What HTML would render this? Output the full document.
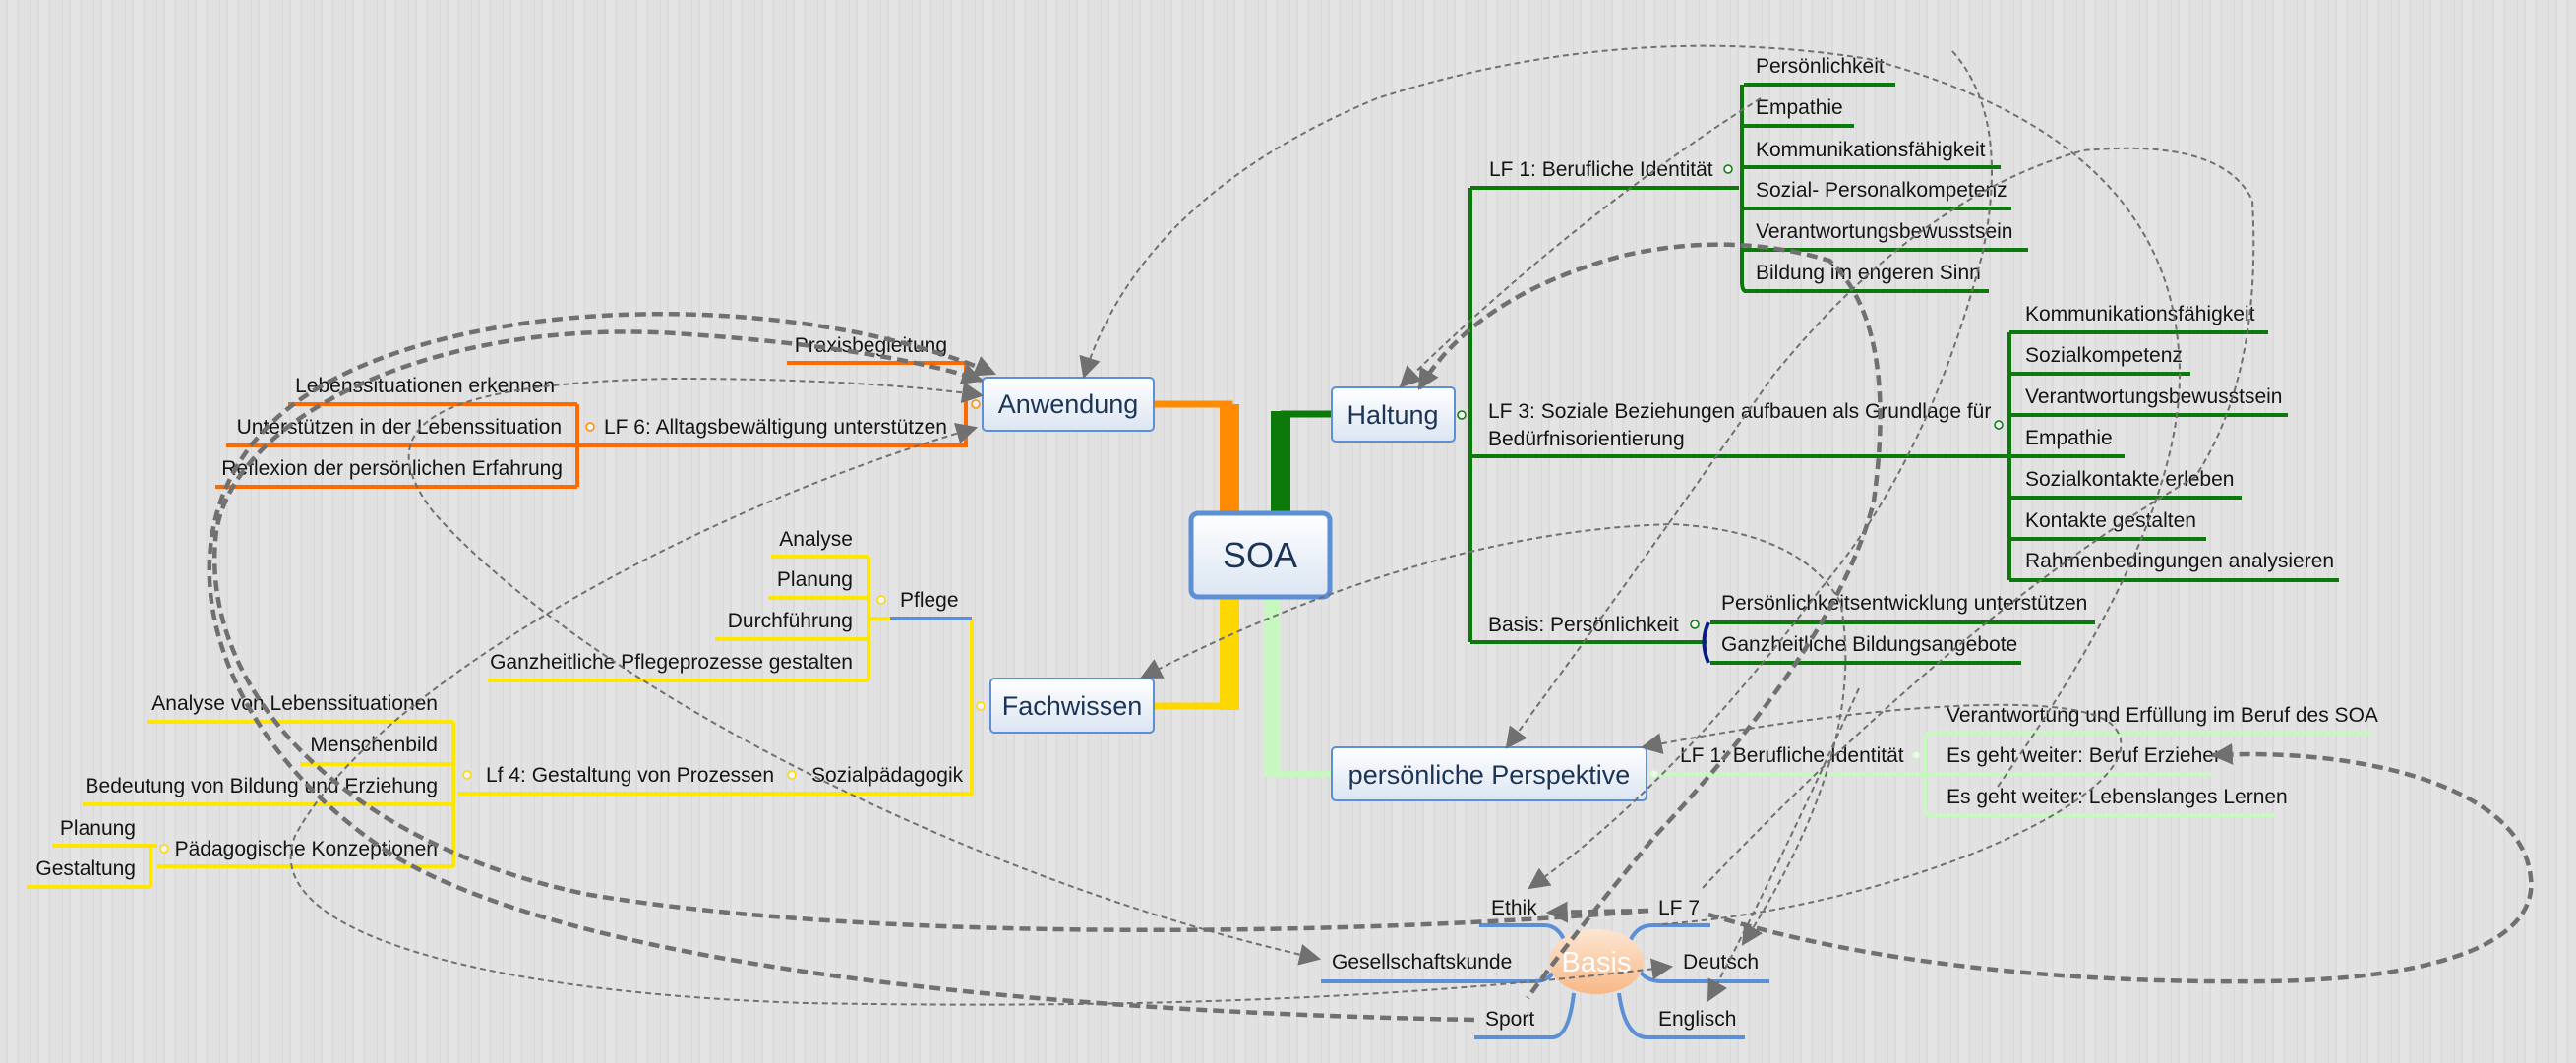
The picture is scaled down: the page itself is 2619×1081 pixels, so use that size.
<!DOCTYPE html>
<html><head><meta charset="utf-8"><style>
html,body{margin:0;padding:0}
body{width:2619px;height:1081px;overflow:hidden;background:#e0e0e0;background-image:repeating-linear-gradient(90deg,#e2e2e2 0 6px,#dadada 6px 8px,#e4e4e4 8px 17px,#dcdcdc 17px 19px,#e1e1e1 19px 31px,#d9d9d9 31px 32px)}
svg{position:absolute;left:0;top:0}
text{font-family:"Liberation Sans",sans-serif;font-size:21px;fill:#141414}
.e{text-anchor:end}
.bx{font-size:27px;fill:#1c3557;text-anchor:middle}
.d{fill:none;stroke:#707070;stroke-width:2;stroke-dasharray:6 4}
.t{fill:none;stroke:#707070;stroke-width:4.5;stroke-dasharray:11 6}
.g{stroke:#0b7a0b;stroke-width:4;fill:none}
.o{stroke:#ff6a00;stroke-width:4;fill:none}
.y{stroke:#ffe600;stroke-width:4;fill:none}
.l{stroke:#c8f7c2;stroke-width:4;fill:none}
.b{stroke:#5b8fd6;stroke-width:4;fill:none}
.c{fill:#f4f4f4;stroke-width:1.5}
</style></head><body>
<svg width="2619" height="1081" viewBox="0 0 2619 1081">
<defs>
<linearGradient id="bg" x1="0" y1="0" x2="0" y2="1"><stop offset="0" stop-color="#ffffff"/><stop offset="1" stop-color="#dbe5f2"/></linearGradient>
<linearGradient id="pe" x1="0" y1="0" x2="0" y2="1"><stop offset="0" stop-color="#fde6d2"/><stop offset="1" stop-color="#f8b887"/></linearGradient>
<marker id="A" viewBox="0 0 10 10" refX="9" refY="5" markerWidth="22" markerHeight="22" orient="auto-start-reverse" markerUnits="userSpaceOnUse"><path d="M0,0 L10,5 L0,10 z" fill="#707070"/></marker>
</defs>

<path d="M1173 411 H1250 V520" fill="none" stroke="#ff8c00" stroke-width="7"/>
<rect x="1240" y="411" width="20" height="110" fill="#ff8c00"/>
<path d="M1302 421 H1354" stroke="#0b7a0b" stroke-width="7"/>
<rect x="1292" y="418" width="20" height="103" fill="#0b7a0b"/>
<path d="M1173 718 H1250" stroke="#ffd700" stroke-width="7"/>
<rect x="1240" y="607" width="20" height="115" fill="#ffd700"/>
<rect x="1285" y="607" width="17" height="183" fill="#c8f7c2"/>
<path d="M1294 787 H1354" stroke="#c8f7c2" stroke-width="7"/>

<path class="g" d="M1495 191 V653"/>
<path class="g" d="M1495 191 H1768"/>
<path class="g" d="M1771 86 V286 Q1771 296 1775 296"/>
<path class="g" d="M1773 86 H1927 M1773 128 H1885 M1773 170 H2034 M1773 212 H2045 M1773 254 H2062 M1773 296 H2022"/>
<text x="1514" y="179">LF 1: Berufliche Identität</text>
<circle class="c" cx="1757" cy="172" r="4" stroke="#0b7a0b"/>
<text x="1785" y="74">Persönlichkeit</text>
<text x="1785" y="116">Empathie</text>
<text x="1785" y="159">Kommunikationsfähigkeit</text>
<text x="1785" y="200">Sozial- Personalkompetenz</text>
<text x="1785" y="242">Verantwortungsbewusstsein</text>
<text x="1785" y="284">Bildung im engeren Sinn</text>

<path class="g" d="M1495 464 H2043"/>
<path class="g" d="M2043 338 V590"/>
<path class="g" d="M2043 338 H2306 M2043 380 H2227 M2043 422 H2326 M2043 464 H2160 M2043 506 H2279 M2043 548 H2243 M2043 590 H2378"/>
<text x="1513" y="425">LF 3: Soziale Beziehungen aufbauen als Grundlage für</text>
<text x="1513" y="453">Bedürfnisorientierung</text>
<circle class="c" cx="2032" cy="432" r="4" stroke="#0b7a0b"/>
<text x="2059" y="326">Kommunikationsfähigkeit</text>
<text x="2059" y="368">Sozialkompetenz</text>
<text x="2059" y="410">Verantwortungsbewusstsein</text>
<text x="2059" y="452">Empathie</text>
<text x="2059" y="494">Sozialkontakte erleben</text>
<text x="2059" y="536">Kontakte gestalten</text>
<text x="2059" y="577">Rahmenbedingungen analysieren</text>

<path class="g" d="M1495 653 H1735"/>
<path d="M1737 633 Q1728 653 1737 674" stroke="#0a1a8a" stroke-width="4" fill="none"/>
<path class="g" d="M1739 633 H2130 M1739 674 H2055"/>
<text x="1513" y="642">Basis: Persönlichkeit</text>
<circle class="c" cx="1723" cy="635" r="4" stroke="#0b7a0b"/>
<text x="1750" y="620">Persönlichkeitsentwicklung unterstützen</text>
<text x="1750" y="662">Ganzheitliche Bildungsangebote</text>
<circle class="c" cx="1486" cy="422" r="4" stroke="#0b7a0b"/>

<path class="l" d="M1680 787 H1957"/>
<path class="l" d="M1962 745 Q1957 745 1957 755 V819 Q1957 829 1962 829"/>
<path class="l" d="M1960 745 H2412 M1957 787 H2250 M1960 829 H2314"/>
<text x="1708" y="775">LF 1: Berufliche Identität</text>
<circle class="c" cx="1948" cy="768" r="4" stroke="#c8f7c2"/>
<circle class="c" cx="1682" cy="787" r="4" stroke="#c8f7c2"/>
<text x="1979" y="734">Verantwortung und Erfüllung im Beruf des SOA</text>
<text x="1979" y="775">Es geht weiter: Beruf Erzieher</text>
<text x="1979" y="817">Es geht weiter: Lebenslanges Lernen</text>

<path class="o" d="M800 369 H982 V453 H587"/>
<path class="o" d="M587 411 V495"/>
<path class="o" d="M293 411 H587 M230 453 H587 M219 495 H587"/>
<text class="e" x="963" y="358">Praxisbegleitung</text>
<text class="e" x="963" y="441">LF 6: Alltagsbewältigung unterstützen</text>
<circle class="c" cx="600" cy="434" r="4" stroke="#ff8c00"/>
<circle class="c" cx="992" cy="411" r="4" stroke="#ff8c00"/>
<text class="e" x="564" y="399">Lebenssituationen erkennen</text>
<text class="e" x="571" y="441">Unterstützen in der Lebenssituation</text>
<text class="e" x="572" y="483">Reflexion der persönlichen Erfahrung</text>

<path class="y" d="M988 629 V807 H466"/>
<path class="y" d="M883 629 H905"/>
<path class="b" d="M905 629 H988"/>
<path class="y" d="M883 566 V692"/>
<path class="y" d="M784 566 H883 M781 608 H883 M727 650 H883 M496 692 H883"/>
<text x="915" y="617">Pflege</text>
<circle class="c" cx="896" cy="610" r="4" stroke="#ffd700"/>
<circle class="c" cx="997" cy="718" r="4" stroke="#ffd700"/>
<text class="e" x="867" y="555">Analyse</text>
<text class="e" x="867" y="596">Planung</text>
<text class="e" x="867" y="638">Durchführung</text>
<text class="e" x="867" y="680">Ganzheitliche Pflegeprozesse gestalten</text>
<text x="825" y="795">Sozialpädagogik</text>
<circle class="c" cx="805" cy="788" r="4" stroke="#ffd700"/>
<text x="494" y="795">Lf 4: Gestaltung von Prozessen</text>
<circle class="c" cx="475" cy="788" r="4" stroke="#ffd700"/>
<path class="y" d="M461 734 V882"/>
<path class="y" d="M149 734 H461 M305 777 H461 M84 818 H461 M160 881 H461"/>
<text class="e" x="445" y="722">Analyse von Lebenssituationen</text>
<text class="e" x="445" y="764">Menschenbild</text>
<text class="e" x="445" y="806">Bedeutung von Bildung und Erziehung</text>
<text class="e" x="445" y="870">Pädagogische Konzeptionen</text>
<circle class="c" cx="167" cy="863" r="4" stroke="#ffd700"/>
<path class="y" d="M153 860 V902"/>
<path class="y" d="M53 860 H160 M27 902 H153"/>
<text class="e" x="138" y="849">Planung</text>
<text class="e" x="138" y="890">Gestaltung</text>

<path class="b" d="M1504 941 H1570 Q1585 941 1592 960"/>
<path class="b" d="M1739 941 H1680 Q1663 941 1656 960"/>
<path class="b" d="M1343 998 H1560 Q1575 998 1582 985"/>
<path class="b" d="M1799 998 H1690 Q1672 998 1666 985"/>
<path class="b" d="M1499 1055 H1578 Q1595 1055 1600 1010"/>
<path class="b" d="M1774 1055 H1675 Q1652 1055 1646 1010"/>
<ellipse cx="1623" cy="978" rx="48" ry="33" fill="url(#pe)"/>
<text x="1623" y="988" style="font-size:29px;fill:#fff;text-anchor:middle">Basis</text>
<text x="1516" y="930">Ethik</text>
<text x="1686" y="930">LF 7</text>
<text x="1354" y="985">Gesellschaftskunde</text>
<text x="1711" y="985">Deutsch</text>
<text x="1510" y="1043">Sport</text>
<text x="1686" y="1043">Englisch</text>

<rect x="999" y="384" width="174" height="54" rx="4" fill="url(#bg)" stroke="#5b8fd6" stroke-width="2"/>
<text class="bx" x="1086" y="420">Anwendung</text>
<rect x="1007" y="690" width="166" height="55" rx="4" fill="url(#bg)" stroke="#5b8fd6" stroke-width="2"/>
<text class="bx" x="1090" y="727">Fachwissen</text>
<rect x="1354" y="394" width="125" height="55" rx="4" fill="url(#bg)" stroke="#5b8fd6" stroke-width="2"/>
<text class="bx" x="1416" y="431">Haltung</text>
<rect x="1354" y="760" width="320" height="54" rx="4" fill="url(#bg)" stroke="#5b8fd6" stroke-width="2"/>
<text class="bx" x="1514" y="797">persönliche Perspektive</text>
<rect x="1211" y="522" width="141" height="85" rx="7" fill="url(#bg)" stroke="#5b8fd6" stroke-width="5"/>
<text class="bx" x="1281" y="577" style="font-size:36px">SOA</text>

<path class="d" marker-end="url(#A)" d="M2031 800 Q2230 520 2215 357 Q2200 140 1900 60 Q1650 20 1400 100 Q1160 200 1102 383"/>
<path class="d" marker-end="url(#A)" d="M1985 52 Q2045 120 2015 260 Q1960 470 1850 600 Q1700 800 1555 903"/>
<path class="t" marker-start="url(#A)" d="M1443 395 Q1500 300 1650 260 Q1760 235 1860 265 Q1930 330 1905 510 Q1870 650 1683 850 Q1600 950 1553 1015"/>
<path class="d" marker-end="url(#A)" d="M1790 100 Q1600 220 1424 393"/>
<path class="d" marker-end="url(#A)" d="M1731 903 Q2000 620 2232 485 Q2300 380 2290 204 Q2260 140 2118 153 Q1950 200 1802 383 Q1650 600 1532 760"/>
<path class="d" marker-start="url(#A)" marker-end="url(#A)" d="M1772 960 Q1900 760 1871 612 Q1830 540 1700 533 Q1450 540 1161 689"/>
<path class="d" marker-end="url(#A)" d="M1690 940 C1950 920 2200 800 2150 740 C2120 700 1900 715 1670 760"/>
<path class="t" marker-end="url(#A)" d="M1737 930 C1900 980 2100 1000 2300 998 C2500 996 2580 950 2573 893 C2565 800 2400 760 2250 768"/>
<path class="t" marker-end="url(#A)" d="M1499 1037 C1100 1030 600 990 400 870 C200 740 150 520 300 410 C450 300 800 290 1011 380"/>
<path class="t" marker-end="url(#A)" d="M1676 926 C1400 950 900 960 600 910 C350 860 200 700 220 540 C240 420 450 320 700 340 C850 350 950 370 998 387"/>
<path class="t" marker-end="url(#A)" d="M1676 926 L1574 928"/>
<path class="d" marker-start="url(#A)" marker-end="url(#A)" d="M1341 975 C1000 900 600 700 440 520 C380 440 420 390 684 385 C850 385 950 395 998 402"/>
<path class="d" marker-start="url(#A)" marker-end="url(#A)" d="M992 435 C700 520 380 700 300 850 C260 950 500 1010 820 1020 C1100 1025 1400 1020 1699 983"/>
<path class="d" marker-end="url(#A)" d="M1890 700 Q1800 900 1737 1017"/>
</svg>
</body></html>
